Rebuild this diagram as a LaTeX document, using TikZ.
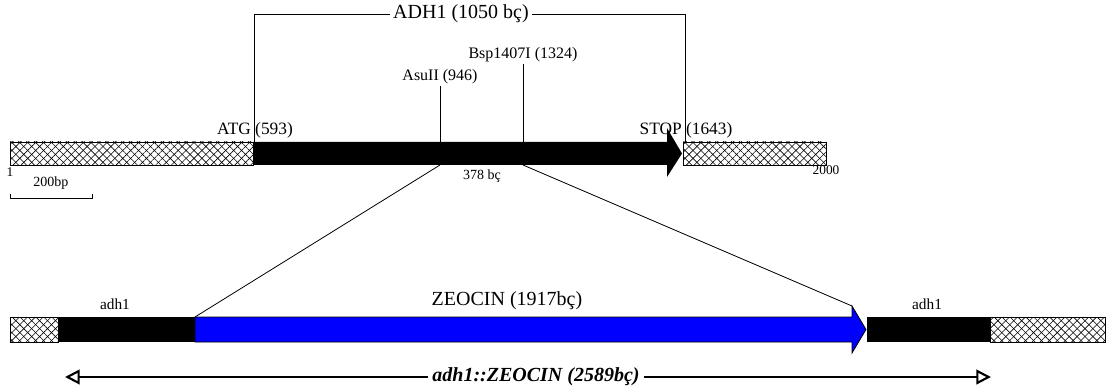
\documentclass[tikz,border=0pt]{standalone}
\usepackage{fontspec}
\setmainfont{Liberation Serif}
\usetikzlibrary{patterns.meta,arrows.meta}
\tikzset{
  hatchbox/.style={draw=black,line width=0.6pt,fill=white,
    postaction={pattern={Lines[angle=45,distance=4.2pt,line width=0.45pt]}},
    postaction={pattern={Lines[angle=-45,distance=4.2pt,line width=0.45pt]}}},
  thin line/.style={draw=black,line width=0.6pt},
  lbl/.style={inner sep=1pt,font=\fontsize{#1}{#1}\selectfont},
  lbl/.default=12pt,
}
\begin{document}
\begin{tikzpicture}[x=0.75pt,y=-0.75pt]
\useasboundingbox (0,0) rectangle (1106,392);
% ---------- top construct ----------
\draw[hatchbox] (10,142) rectangle (253,165);
\fill[black] (253,142) -- (667,142) -- (667,128) -- (682,153.5) -- (667,177) -- (667,165) -- (253,165) -- cycle;
\draw[hatchbox] (683,142) rectangle (826,165);
\coordinate (atg) at (254,165);
\coordinate (stop) at (685,142);
\coordinate (asu) at (440,165);
\coordinate (bsp) at (523,165);
% bracket
\node[lbl=15pt,fill=white,inner sep=2pt] (adh) at (461,14) {ADH1 (1050 bç)};
\draw[thin line] (atg) |- (adh.west);
\draw[thin line] (adh.east) -| (stop);
\node[lbl=13pt] (atgl) at (255,130) {ATG (593)};
\node[lbl=13pt] (stopl) at (686,130) {STOP (1643)};
% cut sites
\node[lbl=12pt,anchor=south] (asul) at (440,86) {AsuII (946)};
\node[lbl=12pt,anchor=south] (bspl) at (523,64) {Bsp1407I (1324)};
\draw[thin line] (asul.south) -- (asu);
\draw[thin line] (bspl.south) -- (bsp);
\node[lbl=10.5pt] (len) at (482,176) {378 bç};
\node[lbl=10pt] (one) at (10,172) {1};
\node[lbl=10pt] (two) at (826,170) {2000};
% scale bar
\node[lbl=10.5pt] (sb) at (51,183) {200bp};
\draw[thin line] (10,194) -- (10,198) -- (92,198) -- (92,194);
% ---------- bottom construct ----------
\draw[hatchbox] (10,317) rectangle (58,342);
\fill[black] (58,317) rectangle (195,342);
\draw[fill=blue,line width=0.6pt] (195,317) -- (852,317) -- (852,306) -- (866,329.5) -- (852,353) -- (852,342) -- (195,342) -- cycle;
\fill[black] (867,317) rectangle (990,342);
\draw[hatchbox] (990,317) rectangle (1105,342);
\coordinate (zs) at (195,317);
\coordinate (ze) at (852,306);
\draw[thin line] (asu) -- (zs);
\draw[thin line] (bsp) -- (ze);
\node[lbl=11.5pt] (a1) at (115,304) {adh1};
\node[lbl=11.5pt] (a2) at (927,304) {adh1};
\node[lbl=15pt] (zeo) at (507,301) {ZEOCIN (1917bç)};
% double arrow
\coordinate (la) at (65,377);
\coordinate (ra) at (991,377);
\draw[line width=1.6pt,{Triangle[open,length=11pt,width=11pt]}-{Triangle[open,length=11pt,width=11pt]}] (la) -- (ra);
\node[lbl=15pt,fill=white,inner sep=3pt,font=\fontsize{15pt}{15pt}\selectfont\bfseries\itshape] (fus) at (536,377) {adh1::ZEOCIN (2589bç)};
\end{tikzpicture}
\end{document}
